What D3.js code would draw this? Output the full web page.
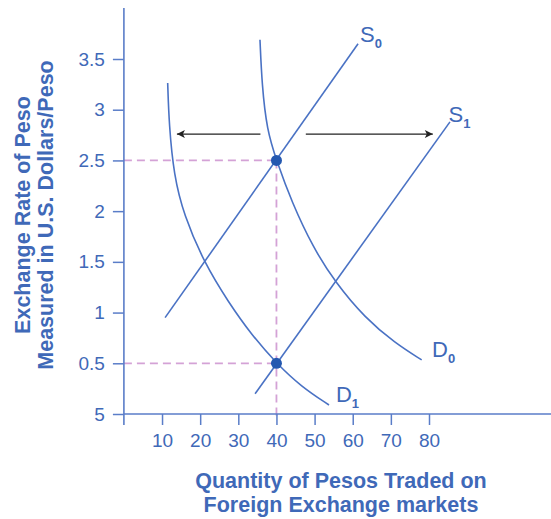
<!DOCTYPE html>
<html><head><meta charset="utf-8">
<script src="https://cdn.jsdelivr.net/npm/d3@7"></script>
<style>
html,body{margin:0;padding:0;background:#fff;}
svg{display:block;font-family:"Liberation Sans",Arial,sans-serif;}
</style></head>
<body>
<svg id="chart" width="551" height="519"></svg>
<script>
// ---- data ----
const priceTicks = [0, 0.5, 1, 1.5, 2, 2.5, 3, 3.5];
const priceTickLabels = ["5", "0.5", "1", "1.5", "2", "2.5", "3", "3.5"];
const qtyTicks = [10, 20, 30, 40, 50, 60, 70, 80];
const supply0 = [[10.8, 0.95], [61.4, 3.65]];
const supply1 = [[34.4, 0.2], [85.5, 2.88]];
const demand0 = [[35.68, 3.69], [36.2, 3.245], [37.5, 2.80], [40, 2.5], [44.0, 2.09], [49.66, 1.637],
                 [55.35, 1.302], [63.21, 0.947], [71.08, 0.70], [78.08, 0.533]];
const demand1 = [[11.48, 3.264], [11.85, 2.85], [13.1, 2.357], [15.7, 1.963], [21.08, 1.489],
                 [27.37, 1.105], [33.51, 0.779], [40, 0.5], [46.5, 0.27], [53.78, 0.089]];
const equilibria = [[40, 2.5], [40, 0.5]];
const arrows = [[[35.8, 2.76], [13.9, 2.76]], [[47.7, 2.76], [81.0, 2.76]]];
const curveLabels = [
  {main: "S", sub: "0", q: 61.9, p: 3.665},
  {main: "S", sub: "1", q: 85.1, p: 2.88},
  {main: "D", sub: "0", q: 80.8, p: 0.56},
  {main: "D", sub: "1", q: 55.6, p: 0.12}
];
const xTitle = ["Quantity of Pesos Traded on", "Foreign Exchange markets"];
const yTitle = ["Exchange Rate of Peso", "Measured in U.S. Dollars/Peso"];

// ---- style ----
const axisColor = "#5a7dc8";
const textColor = "#3f69b8";
const lineColor = "#4a72c4";
const dashColor = "#d4a2d6";
const dotColor = "#2458b0";

const svg = d3.select("#chart");
const x = d3.scaleLinear().domain([0, 80]).range([123.9, 429]);
const y = d3.scaleLinear().domain([0, 3.5]).range([414, 59]);

// dashed guide lines
const g = svg.append("g");
equilibria.forEach(([q, p]) => {
  g.append("line").attr("x1", x(0)).attr("x2", x(q)).attr("y1", y(p)).attr("y2", y(p))
    .attr("stroke", dashColor).attr("stroke-width", 1.8).attr("stroke-dasharray", "8,5");
});
g.append("line").attr("x1", x(40)).attr("x2", x(40)).attr("y1", y(2.5)).attr("y2", y(0) + 3)
  .attr("stroke", dashColor).attr("stroke-width", 1.8).attr("stroke-dasharray", "8,5");

// axes
const yAxis = d3.axisLeft(y).tickValues(priceTicks)
  .tickFormat((d, i) => priceTickLabels[i]).tickSize(11).tickPadding(8).tickSizeOuter(0);
const ya = svg.append("g").attr("transform", `translate(${x(0)},0)`).call(yAxis);
ya.select(".domain").remove();
ya.selectAll(".tick line").attr("stroke", axisColor).attr("stroke-width", 1.5);
ya.selectAll(".tick text").attr("fill", textColor).attr("font-size", 19)
  .attr("font-family", "Liberation Sans, Arial, sans-serif");

const xAxis = d3.axisBottom(x).tickValues(qtyTicks).tickSize(11).tickPadding(9).tickSizeOuter(0);
const xa = svg.append("g").attr("transform", `translate(0,${y(0)})`).call(xAxis);
xa.select(".domain").remove();
xa.selectAll(".tick line").attr("stroke", axisColor).attr("stroke-width", 1.5);
xa.selectAll(".tick text").attr("fill", textColor).attr("font-size", 19)
  .attr("font-family", "Liberation Sans, Arial, sans-serif");

svg.append("line").attr("x1", x(0)).attr("x2", x(0)).attr("y1", 8).attr("y2", y(0) + 11)
  .attr("stroke", axisColor).attr("stroke-width", 1.6);
svg.append("line").attr("x1", x(0)).attr("x2", 551).attr("y1", y(0)).attr("y2", y(0))
  .attr("stroke", axisColor).attr("stroke-width", 1.6);

// curves
const line = d3.line().x(d => x(d[0])).y(d => y(d[1]));
const smooth = d3.line().x(d => x(d[0])).y(d => y(d[1])).curve(d3.curveBasis);
[supply0, supply1].forEach(s => {
  svg.append("path").attr("d", line(s)).attr("fill", "none").attr("stroke", lineColor).attr("stroke-width", 1.6);
});
[demand0, demand1].forEach(s => {
  svg.append("path").attr("d", smooth(s)).attr("fill", "none").attr("stroke", lineColor).attr("stroke-width", 1.6);
});

// arrows
svg.append("defs").append("marker").attr("id", "ah").attr("viewBox", "0 0 10 10")
  .attr("refX", 10).attr("refY", 5).attr("markerWidth", 11).attr("markerHeight", 8)
  .attr("markerUnits", "userSpaceOnUse").attr("orient", "auto")
  .append("path").attr("d", "M0,0 L10,5 L0,10 L2.5,5 Z").attr("fill", "#222");
arrows.forEach(a => {
  svg.append("path").attr("d", line(a)).attr("stroke", "#222").attr("stroke-width", 1.3)
    .attr("fill", "none").attr("marker-end", "url(#ah)");
});

// equilibrium dots
svg.selectAll("circle.eq").data(equilibria).enter().append("circle")
  .attr("cx", d => x(d[0])).attr("cy", d => y(d[1])).attr("r", 5.5).attr("fill", dotColor);

// curve labels
curveLabels.forEach(l => {
  const t = svg.append("text").attr("x", x(l.q)).attr("y", y(l.p)).attr("fill", textColor)
    .attr("font-size", 22);
  t.append("tspan").text(l.main);
  t.append("tspan").attr("font-size", 13).attr("dy", 6).attr("font-weight", "bold").text(l.sub);
});

// axis titles
xTitle.forEach((s, i) => {
  svg.append("text").attr("x", 341).attr("y", 488 + i * 24).attr("text-anchor", "middle")
    .attr("fill", textColor).attr("font-size", 21.5).attr("font-weight", "bold").text(s);
});
yTitle.forEach((s, i) => {
  svg.append("text").attr("transform", `translate(${29.5 + i * 23},215) rotate(-90)`)
    .attr("text-anchor", "middle").attr("fill", textColor).attr("font-size", 21.5)
    .attr("font-weight", "bold").text(s);
});
</script>
</body></html>
